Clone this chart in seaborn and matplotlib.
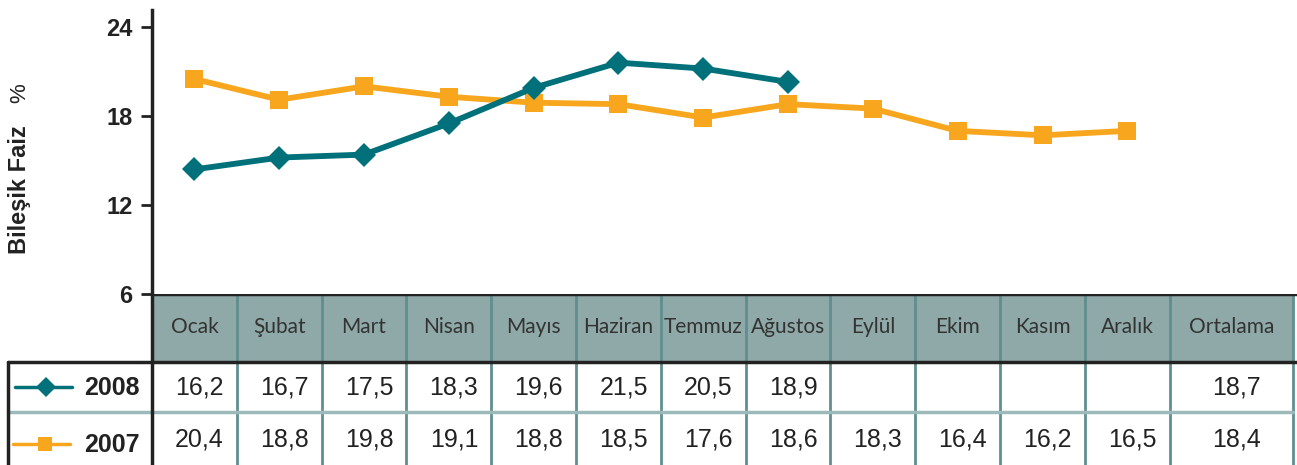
import numpy as np
import pandas as pd
import matplotlib
matplotlib.use("Agg")
import matplotlib.pyplot as plt
from matplotlib.lines import Line2D
import seaborn as sns

# data
months = ["Ocak", "Şubat", "Mart", "Nisan", "Mayıs", "Haziran", "Temmuz",
          "Ağustos", "Eylül", "Ekim", "Kasım", "Aralık"]
header = months + ["Ortalama"]

# values as drawn on the chart
line_2008 = [14.4, 15.2, 15.4, 17.5, 19.9, 21.6, 21.2, 20.3]
line_2007 = [20.5, 19.1, 20.0, 19.3, 18.9, 18.8, 17.9, 18.8, 18.5, 17.0, 16.7, 17.0]

# values printed in the table
table_2008 = ["16,2", "16,7", "17,5", "18,3", "19,6", "21,5", "20,5", "18,9",
              "", "", "", "", "18,7"]
table_2007 = ["20,4", "18,8", "19,8", "19,1", "18,8", "18,5", "17,6", "18,6",
              "18,3", "16,4", "16,2", "16,5", "18,4"]

yticks = [6, 12, 18, 24]

teal = "#00717a"
orange = "#f8a61e"
head_bg = "#8fa9a8"
sep = "#5f8f8e"
dark = "#222222"

sns.set_theme(style="white")
plt.rcParams["font.family"] = ["Liberation Sans Narrow", "Liberation Sans", "DejaVu Sans"]

W, H = 1297, 465
fig = plt.figure(figsize=(W / 100, H / 100), dpi=100)

# pixel helpers
x0_px, unit_px = 152, 84.81
def px2x(px):
    return (px - x0_px) / unit_px - 0.5

ax = fig.add_axes([x0_px / W, (H - 294) / H, 1 - x0_px / W, (294 - 10) / H])
df08 = pd.DataFrame({"x": np.arange(len(line_2008)), "v": line_2008})
df07 = pd.DataFrame({"x": np.arange(len(line_2007)), "v": line_2007})
sns.lineplot(data=df07, x="x", y="v", ax=ax, color=orange, lw=4.2, marker="s",
             markersize=13, markeredgewidth=0, zorder=3)
sns.lineplot(data=df08, x="x", y="v", ax=ax, color=teal, lw=4.2, marker="D",
             markersize=12, markeredgewidth=0, zorder=4)
ax.set_xlim(-0.5, px2x(W))
ax.set_ylim(6, 25.15)
ax.set_yticks(yticks)
ax.set_yticklabels([str(t) for t in yticks], fontsize=17, fontweight="bold", color=dark)
ax.set_xticks([])
ax.set_xlabel("")
ax.set_ylabel("")
for s in ["top", "right", "bottom"]:
    ax.spines[s].set_visible(False)
ax.spines["left"].set_color(dark)
ax.spines["left"].set_linewidth(2.5)
ax.tick_params(axis="y", direction="out", length=8, width=2, color=dark, pad=6, left=True)

fig.text(20 / W, 1 - 190 / H, "Bileşik Faiz", rotation=90, ha="center", va="center",
         fontsize=17, fontweight="bold", color=dark)
fig.text(20 / W, 1 - 93 / H, "%", rotation=90, ha="center", va="center",
         fontsize=16, color=dark)

# table
tab = fig.add_axes([0, 0, 1, (H - 294) / H])
tab.set_xlim(px2x(0), px2x(W))
tab.set_ylim(171, 0)
tab.axis("off")

edges = list(np.arange(-0.5, 11.6, 1.0)) + [px2x(1293)]
centers = [(edges[i] + edges[i + 1]) / 2 for i in range(len(header))]

tab.fill_between([edges[0], edges[-1]], 0, 68, color=head_bg, lw=0, zorder=1)
for e in edges[1:]:
    tab.plot([e, e], [0, 171], color=sep, lw=2, zorder=2)
tab.plot([edges[0], px2x(W)], [0, 0], color=dark, lw=2.5, zorder=3)
tab.plot([px2x(8), px2x(W)], [68, 68], color=dark, lw=2.5, zorder=3)
tab.plot([px2x(8), edges[-1]], [118, 118], color="#9dbaba", lw=2.5, zorder=2)
tab.plot([edges[0], edges[0]], [0, 171], color=dark, lw=2.5, zorder=4)
tab.plot([px2x(8), px2x(8)], [68, 171], color=dark, lw=2.5, zorder=4)

for c, h, a, b in zip(centers, header, table_2008, table_2007):
    tab.text(c, 33, h, ha="center", va="center", fontsize=15, color="#333333",
             family=["Lato", "DejaVu Sans"])
    tab.text(c + 0.06, 94, a, ha="center", va="center", fontsize=18, color=dark)
    tab.text(c + 0.06, 145, b, ha="center", va="center", fontsize=18, color=dark)

# legend cells
tab.add_line(Line2D([px2x(15), px2x(72)], [93, 93], color=teal, lw=2.5))
tab.add_line(Line2D([px2x(46)], [93], color=teal, marker="D", markersize=10, mew=0))
tab.add_line(Line2D([px2x(13), px2x(70)], [150, 150], color=orange, lw=2.5))
tab.add_line(Line2D([px2x(45)], [150], color=orange, marker="s", markersize=10, mew=0))
tab.text(px2x(112), 94, "2008", ha="center", va="center", fontsize=18,
         fontweight="bold", color=dark)
tab.text(px2x(112), 151, "2007", ha="center", va="center", fontsize=18,
         fontweight="bold", color=dark)

fig.savefig("out.png", dpi=100)
